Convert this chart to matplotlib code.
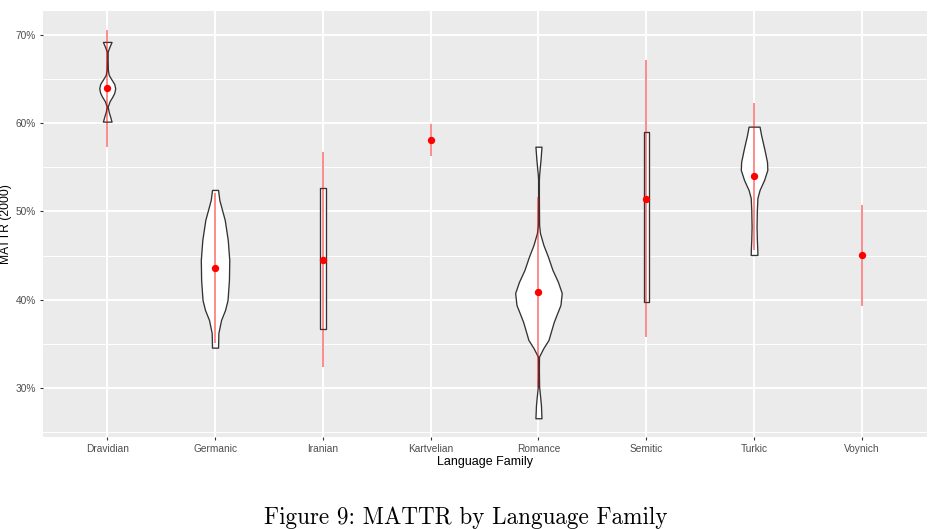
import matplotlib
matplotlib.use("Agg")
import matplotlib.pyplot as plt
from matplotlib.ticker import FuncFormatter, MultipleLocator

families = ["Dravidian", "Germanic", "Iranian", "Kartvelian",
            "Romance", "Semitic", "Turkic", "Voynich"]

# mean and the red range (lower / upper), in percent
means = [63.95, 43.63, 44.54, 58.1, 40.88, 51.42, 53.99, 45.07]
lows = [57.3, 35.07, 32.41, 56.29, 30.15, 35.75, 45.64, 39.3]
highs = [70.57, 52.06, 56.71, 59.91, 51.68, 67.17, 62.33, 50.74]

# violin outlines: y (percent) and half width (category units)
dravidian_y = [69.21, 68.64, 68.11, 67.17, 66.03, 65.47, 64.90, 64.45, 63.96,
               63.43, 62.97, 62.52, 61.88, 61.27, 60.71, 60.18]
dravidian_w = [0.040, 0.020, 0.004, 0.004, 0.006, 0.014, 0.042, 0.065, 0.074,
               0.065, 0.046, 0.023, 0.004, 0.014, 0.028, 0.040]

germanic_y = [52.44, 51.30, 49.04, 46.77, 44.51, 42.24, 39.97, 38.84, 37.71,
              36.23, 34.57]
germanic_w = [0.028, 0.040, 0.090, 0.118, 0.132, 0.129, 0.116, 0.093, 0.056,
              0.031, 0.028]

iranian_y = [52.70, 44.5, 36.72]
iranian_w = [0.028, 0.028, 0.028]

romance_y = [57.34, 55.84, 54.14, 53.57, 51.30, 48.47, 47.56, 46.20, 44.88, 43.37,
             42.01, 40.76, 39.41, 38.27, 37.48, 36.57, 35.44, 34.53, 33.55, 32.04,
             30.15, 29.21, 28.07, 26.57]
romance_w = [0.028, 0.019, 0.006, 0.004, 0.004, 0.006, 0.014, 0.046, 0.088, 0.130,
             0.181, 0.216, 0.204, 0.167, 0.142, 0.120, 0.093, 0.046, 0.005, 0.004,
             0.006, 0.014, 0.023, 0.028]

semitic_y = [59.04, 49.4, 39.71]
semitic_w = [0.023, 0.023, 0.023]

turkic_y = [59.61, 58.67, 56.97, 55.61, 54.71, 53.57, 52.44, 51.53, 50.17,
            48.28, 46.77, 45.64, 45.07]
turkic_w = [0.051, 0.065, 0.097, 0.120, 0.123, 0.093, 0.051, 0.031, 0.026,
            0.023, 0.026, 0.030, 0.031]

violins = {
    "Dravidian": (dravidian_y, dravidian_w),
    "Germanic": (germanic_y, germanic_w),
    "Iranian": (iranian_y, iranian_w),
    "Romance": (romance_y, romance_w),
    "Semitic": (semitic_y, semitic_w),
    "Turkic": (turkic_y, turkic_w),
}

PANEL = "#EBEBEB"
TEXT = "#4D4D4D"

plt.rcParams.update({
    "font.family": ["Liberation Sans", "DejaVu Sans"],
    "axes.facecolor": PANEL,
    "figure.facecolor": "white",
})

fig = plt.figure(figsize=(9.33, 5.29), dpi=100)
ax = fig.add_axes([0.0456, 0.1745, 0.9475, 0.8053])

for i, fam in enumerate(families):
    if fam in violins:
        y, w = violins[fam]
        left = [i - v for v in w]
        right = [i + v for v in w]
        ax.fill_betweenx(y, left, right, facecolor="white", edgecolor="#333333",
                         linewidth=0.95, zorder=2)

ax.vlines(range(len(families)), lows, highs, color="red", alpha=0.55,
          linewidth=1.15, zorder=3)
ax.scatter(range(len(families)), means, color="red", s=28, zorder=4,
           linewidths=0)

ax.set_xlim(-0.6, len(families) - 0.4)
ax.set_ylim(24.48, 72.75)
ax.set_xticks(range(len(families)))
ax.set_xticklabels(families)
ax.yaxis.set_major_locator(MultipleLocator(10))
ax.yaxis.set_minor_locator(MultipleLocator(5))
ax.yaxis.set_major_formatter(FuncFormatter(lambda v, _: f"{v:.0f}%"))

ax.set_axisbelow(True)
ax.grid(which="major", color="white", linewidth=1.4)
ax.grid(which="minor", axis="y", color="white", linewidth=0.7)
for s in ax.spines.values():
    s.set_visible(False)
ax.tick_params(which="major", length=2.5, width=0.8, color="#333333",
               labelsize=7.3, labelcolor=TEXT, pad=2.5)
ax.tick_params(which="minor", length=0)

ax.set_xlabel("Language Family", fontsize=9, labelpad=2)
ax.set_ylabel("MATTR (2000)", fontsize=8.7)
ax.yaxis.set_label_coords(-0.034, 0.5)

fig.text(0.4995, 0.01, "Figure 9: MATTR by Language Family", ha="center",
         va="baseline", fontsize=16.7, family="cmr10")

fig.savefig("out.png", dpi=100)
